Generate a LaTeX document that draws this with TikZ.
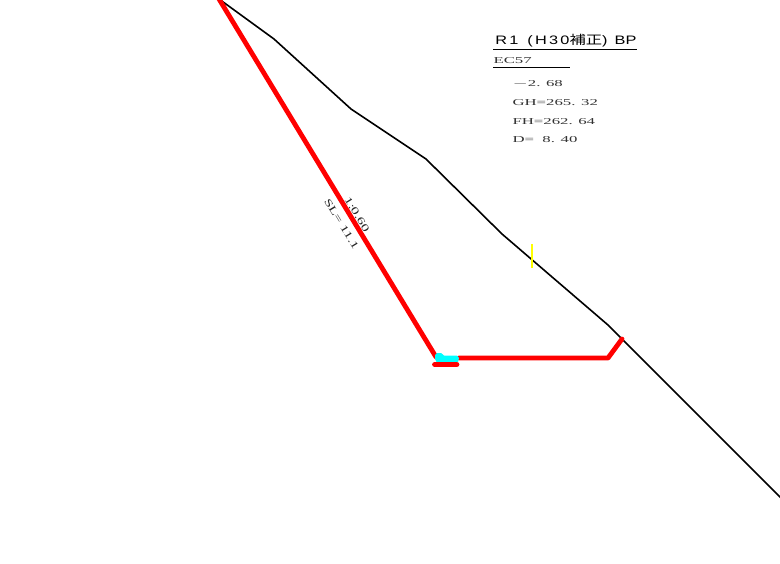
\documentclass[tikz,border=0pt]{standalone}
\usepackage{fontspec}
\setmainfont{Liberation Serif}
\newfontfamily\titlesans{Liberation Sans}
\newfontfamily\cjkfont{Noto Sans CJK JP}
\definecolor{cadred}{RGB}{255,0,0}
\definecolor{cadcyan}{RGB}{0,255,255}
\definecolor{cadyellow}{RGB}{255,255,0}
\begin{document}
\begin{tikzpicture}[x=0.75pt,y=-0.75pt,
  ground/.style={draw=black,line width=1.2pt,line join=round},
  redline/.style={draw=cadred,line width=3.6pt,line join=round,line cap=round},
  vals/.style={anchor=west,inner sep=0pt,font=\fontsize{6.8}{8}\selectfont,text=black!80,xscale=1.85},
  slopetxt/.style={inner sep=0pt,font=\fontsize{7.5}{8}\selectfont,text=black!85,rotate=-58.7,xscale=1.55},
  rulew/.style={draw=black,line width=0.8pt}]
\useasboundingbox (0,0) rectangle (780,563);
\fill[white] (0,0) rectangle (780,563);
% ground line
\coordinate (g0) at (219,-1);
\coordinate (g1) at (274,39);
\coordinate (g2) at (351,109);
\coordinate (g3) at (426,159);
\coordinate (g4) at (502,234);
\coordinate (g5) at (608,325);
\coordinate (g6) at (781,498);
\draw[ground] (g0)--(g1)--(g2)--(g3)--(g4)--(g5)--(g6);
% yellow tick
\coordinate (y0) at (532,244);
\coordinate (y1) at (532,268);
\draw[cadyellow,line width=1.2pt] (y0)--(y1);
% red
\coordinate (r0) at (219,-1);
\coordinate (r1) at (436,357);
\coordinate (r3) at (435,364.5);
\coordinate (r4) at (456.5,364.5);
\coordinate (r6) at (459,358);
\coordinate (r7) at (608,358);
\coordinate (r8) at (622,339);
\draw[redline] (r0)--(r1);
\draw[redline] (r6)--(r7)--(r8);
% cyan
\fill[cadcyan] (435,355)--(437,353)--(441,353)--(444,355.5)--(457,355.5)--(459,358)--(458,362)--(437,363)--(435,359)--cycle;
\draw[cadred,line width=4.4pt,line cap=round] (r3)--(r4);
% labels
\node[inner sep=0pt,anchor=west,xscale=1.33] (title) at (495,41) {\fontsize{9.2}{11}\selectfont\titlesans\addfontfeatures{LetterSpace=14}R1\hspace{5pt}(H30\cjkfont 補正\titlesans)\hspace{4pt}BP};
\coordinate (t0) at (493,49.5);
\coordinate (t1) at (637,49.5);
\draw[rulew] (t0)--(t1);
\node[vals] (ec) at (493,61) {EC57};
\coordinate (e0) at (493,67.5);
\coordinate (e1) at (570,67.5);
\draw[rulew] (e0)--(e1);
\node[vals] (v1) at (512,84) {$-$2. 68};
\node[vals] (v2) at (512,103) {GH=265. 32};
\node[vals] (v3) at (512,121.5) {FH=262. 64};
\node[vals] (v4) at (512,140) {D=\ \ 8. 40};
\node[slopetxt] (slope) at (357,214.5) {1:0.60};
\node[slopetxt] (sl) at (341.5,224) {SL=\ 11.1};
\end{tikzpicture}
\end{document}
